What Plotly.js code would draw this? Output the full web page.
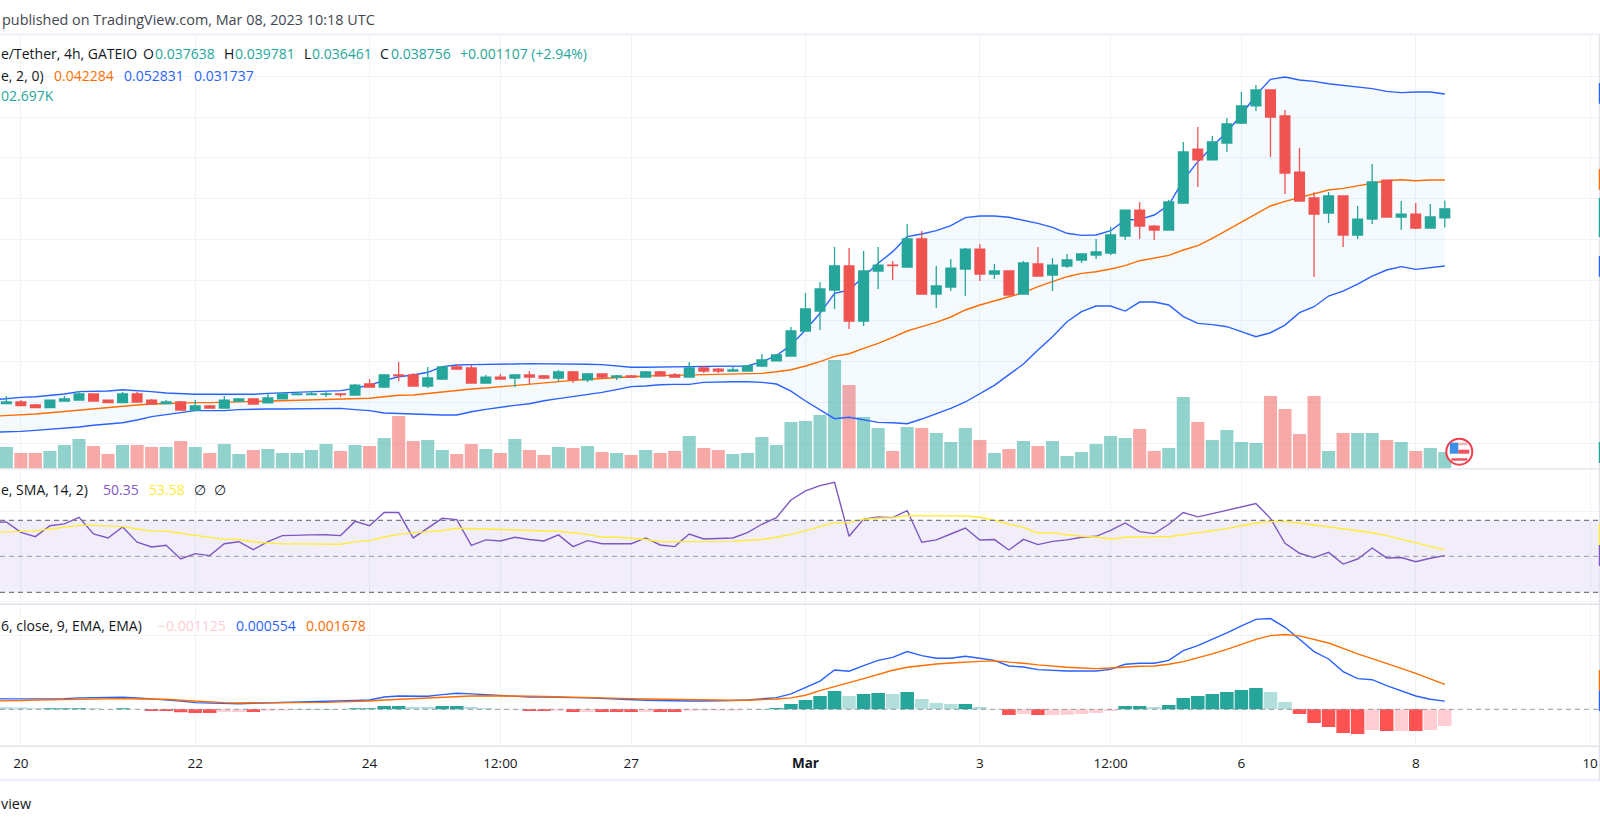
<!DOCTYPE html>
<html><head><meta charset="utf-8">
<script src="https://cdn.plot.ly/plotly-3.0.1.min.js"></script>
<style>html,body{margin:0;padding:0;background:#fff}#c{width:1600px;height:825px}</style>
</head><body><div id="c"></div>
<script>
// prices in units of 0.001 USDT, one 4h candle per entry
const opens=[14.9,14.86,15.07,14.70,14.37,15.19,15.31,16.05,15.31,14.99,16.05,15.31,14.86,15.07,14.09,14.58,14.33,15.19,15.44,14.95,15.44,15.97,15.97,16.00,16.05,15.93,17.28,16.91,18.38,18.38,17.03,17.89,19.36,19.24,17.40,18.13,18.01,18.38,18.26,18.01,18.75,17.77,18.50,18.13,18.26,18.13,18.75,18.38,18.13,19.24,19.11,18.87,18.87,19.48,20.10,20.71,23.77,26.22,28.80,31.74,25.00,31.13,31.86,31.62,35.05,28.31,29.17,31.37,33.82,30.76,31.13,28.31,31.99,30.64,31.74,32.48,33.09,33.33,35.42,38.60,36.64,36.15,39.46,46.08,44.74,46.82,49.27,51.36,53.32,50.13,43.26,40.08,38.24,40.32,35.54,37.50,42.28,37.75,38.11,36.40,37.638];
const highs=[15.1,15.80,15.31,14.82,15.31,15.80,16.42,16.05,15.31,16.29,16.29,15.44,15.31,15.19,15.31,14.70,15.80,15.56,15.56,16.17,16.05,16.29,16.42,16.29,16.17,17.28,17.89,18.50,19.97,18.62,19.36,19.48,19.73,19.60,18.38,18.50,18.50,18.87,18.38,18.99,18.87,18.62,18.50,18.38,18.38,18.87,18.87,18.62,19.97,19.48,19.24,19.36,19.60,20.95,20.95,24.26,28.43,29.78,34.07,33.95,33.58,34.07,32.35,36.89,36.03,31.74,32.60,33.95,34.44,31.99,31.13,32.35,34.07,32.72,33.21,33.21,35.05,36.52,38.60,39.59,36.77,39.83,46.94,48.78,47.68,49.88,53.07,53.93,53.32,50.87,46.21,40.81,40.81,40.32,39.10,44.24,42.28,39.71,39.46,39.34,39.781];
const lows=[14.8,14.86,14.62,14.37,14.37,15.19,15.31,15.19,14.99,14.99,15.07,14.82,14.86,14.09,14.09,14.33,14.33,15.19,14.82,14.95,15.44,15.97,15.97,15.68,15.68,15.93,16.91,16.78,17.64,17.03,16.78,17.77,19.11,17.40,17.40,17.89,16.91,17.28,17.89,17.64,17.40,17.52,17.89,17.77,18.13,18.13,18.26,18.13,18.13,18.62,18.62,18.87,18.87,19.36,20.10,20.71,23.77,23.89,26.47,24.02,24.38,28.92,30.02,31.49,28.31,26.59,28.67,28.06,29.90,30.15,28.18,28.31,30.51,28.67,31.49,32.11,32.60,33.09,34.93,35.05,34.93,36.15,39.46,41.42,44.74,45.72,49.15,50.74,45.10,40.57,39.71,30.39,37.01,34.07,35.05,36.89,37.75,36.15,36.28,36.40,36.461];
const closes=[15.0,15.07,14.62,14.37,15.31,15.44,16.05,15.19,14.99,16.05,15.07,14.82,15.07,14.09,14.58,14.33,15.31,15.44,14.82,15.56,16.05,16.05,16.05,16.05,15.97,17.15,16.91,18.38,18.26,17.03,18.01,19.36,19.11,17.40,18.13,17.89,18.38,18.13,18.01,18.75,17.77,18.50,18.13,18.26,18.13,18.75,18.26,18.13,19.24,18.87,18.87,18.99,19.48,20.22,20.83,23.77,26.47,28.92,31.74,25.00,31.13,31.86,31.78,35.05,28.31,29.29,31.49,33.82,30.76,31.13,28.18,32.11,30.51,31.86,32.48,33.21,33.46,35.54,38.60,36.64,36.15,39.59,45.72,44.74,46.94,49.15,51.36,53.32,50.01,43.14,39.71,38.11,40.32,35.54,37.50,42.04,37.75,38.11,36.40,37.75,38.756];
const bbUpper=[15.31,15.48,15.64,15.72,15.89,16.05,16.34,16.38,16.42,16.58,16.50,16.34,16.17,16.05,16.01,16.01,16.01,16.05,16.01,16.13,16.21,16.25,16.34,16.38,16.46,16.74,17.15,17.68,18.17,18.38,18.71,19.40,19.60,19.65,19.65,19.69,19.73,19.77,19.77,19.73,19.73,19.69,19.65,19.52,19.32,19.32,19.32,19.32,19.40,19.44,19.44,19.44,19.48,20.01,20.75,22.05,23.89,25.94,28.39,28.80,30.43,32.07,33.50,35.34,35.66,36.07,36.69,37.67,37.87,37.87,37.71,37.38,36.97,36.48,35.75,35.50,35.54,36.07,37.38,37.46,37.99,39.22,42.28,44.53,46.37,48.21,50.25,52.70,54.63,54.91,54.54,54.38,54.09,53.89,53.60,53.48,53.15,52.99,53.07,53.07,52.831];
const bbBasis=[13.31,13.39,13.52,13.60,13.76,13.92,14.13,14.29,14.41,14.54,14.70,14.82,14.90,14.95,14.99,14.99,15.03,15.07,15.15,15.19,15.23,15.27,15.31,15.39,15.44,15.48,15.52,15.72,15.89,15.93,16.13,16.34,16.54,16.66,16.78,16.95,17.11,17.28,17.44,17.60,17.72,17.85,17.97,18.09,18.17,18.26,18.30,18.34,18.38,18.42,18.42,18.42,18.46,18.58,18.78,19.03,19.48,20.01,20.66,20.99,21.65,22.26,23.00,23.77,24.30,24.83,25.49,26.35,26.96,27.49,27.98,28.47,29.21,29.82,30.43,30.84,31.04,31.37,31.78,32.39,32.68,33.05,33.70,34.23,35.13,36.11,37.17,38.11,39.10,39.67,40.16,40.57,41.06,41.26,41.59,41.96,42.20,42.32,42.20,42.28,42.284];
const bbLower=[11.35,11.39,11.47,11.59,11.72,11.84,12.00,12.21,12.37,12.53,12.86,13.27,13.52,13.80,14.01,14.01,14.01,14.13,14.21,14.21,14.21,14.21,14.25,14.29,14.29,14.13,14.01,13.72,13.64,13.60,13.52,13.47,13.47,13.88,14.17,14.46,14.66,14.86,15.23,15.48,15.72,15.97,16.25,16.58,16.95,17.03,17.19,17.23,17.23,17.48,17.56,17.56,17.56,17.48,17.27,16.41,15.19,14.08,13.02,13.19,12.86,12.57,12.53,12.41,12.98,13.59,14.29,15.07,16.05,17.11,18.42,19.72,21.44,23.08,24.91,26.14,26.83,26.83,26.22,27.32,27.32,26.96,25.53,24.71,24.55,24.30,23.69,23.07,23.56,24.50,26.02,26.75,28.06,28.67,29.53,30.51,31.25,31.66,31.33,31.49,31.737];
// volume in thousands
const volumes=[130,134,96,96,109,147,185,140,90,147,147,134,134,172,134,96,153,90,115,122,96,96,115,153,109,147,140,191,329,172,178,115,90,153,122,96,185,115,84,134,128,140,103,96,84,115,96,109,203,128,115,90,96,197,147,292,298,336,682,525,323,254,109,260,254,222,166,254,178,96,122,172,140,172,77,103,153,203,191,248,109,128,449,292,178,241,166,159,455,374,216,455,109,222,222,222,178,166,109,128,102.697];
const rsi=[68.7,69.1,63.3,60.9,67.0,68.0,71.7,62.4,60.2,66.3,57.8,55.2,56.1,48.5,51.5,50.4,57.0,58.1,53.7,58.1,61.5,61.5,61.9,62.0,61.5,69.4,67.0,74.3,74.3,60.2,65.6,71.1,70.4,56.1,59.1,58.5,60.6,59.3,58.5,61.9,55.4,58.7,57.0,57.2,57.0,60.2,56.3,55.4,62.4,59.6,59.8,60.2,63.1,67.8,71.5,81.3,86.3,89.3,91.1,61.1,70.7,71.9,71.5,75.4,57.8,59.1,62.4,65.7,59.1,59.3,53.5,59.4,56.5,58.3,59.1,60.6,61.1,64.4,68.5,63.7,62.6,67.8,74.3,71.9,73.7,75.6,77.8,79.3,71.1,57.2,51.7,49.3,52.2,45.7,48.5,54.6,49.1,49.3,47.0,48.9,50.35];
const rsiMa=[63.3,63.7,64.1,64.1,65.2,66.1,67.2,67.2,66.9,66.5,65.2,64.1,63.9,62.8,61.7,60.2,59.4,59.3,58.1,57.4,56.9,56.9,56.9,56.7,56.7,58.0,58.7,60.7,62.2,63.0,63.5,64.3,65.6,65.4,65.2,65.0,64.8,64.6,64.4,63.9,63.1,62.2,60.6,60.6,60.0,59.3,58.1,58.1,58.3,58.3,58.3,58.3,58.9,59.3,60.6,62.2,64.3,66.5,68.7,68.7,70.6,71.1,71.5,72.6,72.6,72.6,72.6,72.4,71.7,70.0,67.8,66.1,62.8,63.0,62.0,61.1,60.7,59.6,60.6,60.9,60.9,60.9,62.0,63.0,64.3,65.4,67.0,68.5,69.3,69.3,68.5,67.4,66.3,65.2,64.1,63.1,61.5,59.6,57.8,55.7,53.58];
const macdHist=[0.14,0.135,0.13,0.068,0.07,0.072,0.074,0.068,0.023,0.068,0.023,-0.113,-0.115,-0.20,-0.25,-0.255,-0.18,-0.175,-0.18,-0.09,-0.085,0.023,0.025,0.027,0.023,0.068,0.07,0.225,0.23,0.158,0.155,0.225,0.23,0.158,0.09,0.023,0.02,-0.113,-0.115,-0.09,-0.18,-0.175,-0.18,-0.182,-0.184,-0.18,-0.184,-0.186,-0.09,-0.088,-0.086,-0.084,-0.02,0.023,0.09,0.36,0.63,0.90,1.24,0.90,1.04,1.10,1.04,1.17,0.70,0.43,0.36,0.365,0.158,0.023,-0.38,-0.315,-0.38,-0.378,-0.376,-0.315,-0.25,-0.113,0.225,0.23,0.158,0.29,0.77,0.90,1.04,1.17,1.31,1.44,1.17,0.50,-0.315,-0.92,-1.19,-1.60,-1.67,-1.40,-1.46,-1.458,-1.46,-1.40,-1.125];
const macdLine=[0.70,0.70,0.70,0.70,0.70,0.72,0.77,0.79,0.79,0.81,0.77,0.70,0.65,0.56,0.45,0.41,0.38,0.38,0.41,0.43,0.45,0.47,0.50,0.50,0.54,0.59,0.63,0.83,0.90,0.88,0.88,0.99,1.08,1.04,0.99,0.92,0.88,0.83,0.83,0.83,0.79,0.77,0.72,0.68,0.65,0.61,0.59,0.56,0.56,0.56,0.56,0.59,0.63,0.70,0.79,1.04,1.46,1.91,2.66,2.57,2.95,3.31,3.51,3.90,3.63,3.45,3.45,3.58,3.45,3.31,2.93,2.86,2.68,2.61,2.59,2.59,2.59,2.70,3.04,3.11,3.11,3.31,3.96,4.30,4.71,5.16,5.63,6.08,6.13,5.54,4.73,3.90,3.40,2.55,2.07,2.00,1.60,1.26,0.90,0.68,0.554];
const macdSignal=[0.56,0.56,0.59,0.63,0.65,0.68,0.70,0.70,0.72,0.72,0.70,0.70,0.68,0.61,0.54,0.47,0.45,0.43,0.43,0.43,0.45,0.47,0.47,0.47,0.50,0.52,0.56,0.63,0.68,0.70,0.74,0.81,0.86,0.90,0.92,0.92,0.90,0.88,0.86,0.83,0.81,0.79,0.77,0.74,0.72,0.70,0.68,0.65,0.63,0.63,0.61,0.61,0.61,0.63,0.70,0.77,0.95,1.26,1.55,1.80,2.07,2.36,2.64,2.84,2.97,3.06,3.13,3.20,3.24,3.27,3.20,3.11,3.00,2.91,2.84,2.79,2.75,2.79,2.86,2.91,2.93,3.04,3.22,3.47,3.74,4.05,4.39,4.73,4.98,5.05,4.96,4.73,4.48,4.12,3.74,3.42,3.11,2.77,2.43,2.05,1.678];
const tickDates=['2023-02-20','2023-02-22','2023-02-24','2023-02-25 12:00','2023-02-27','2023-03-01','2023-03-03','2023-03-04 12:00','2023-03-06','2023-03-08','2023-03-10'];
const tickLabels=['20','22','24','12:00','27','<b>Mar</b>','3','12:00','6','8','10'];

const W=1600,H=825,FONT='"Open Sans",sans-serif';
const UP='#26a69a',DOWN='#ef5350',BLUE='#2962ff',ORANGE='#ff6d00',GRID='#f0f3fa',SEP='#e0e3eb';
const T0=Date.UTC(2023,1,19,16),STEP=4*3600e3;
const dates=opens.map((_,i)=>new Date(T0+i*STEP).toISOString());
const idx=j=>new Date(T0+j*STEP).toISOString();
const fy=y=>1-y/H, fx=x=>x/W;

const volColors=closes.map((c,i)=>c>=opens[i]?'rgba(38,166,154,0.5)':'rgba(239,83,80,0.5)');
const histColors=macdHist.map((v,i)=>{
  const p=i?macdHist[i-1]:v;
  return v>=0?(v>=p?'#26a69a':'#b2dfdb'):(v<p?'#ff5252':'#ffcdd2');
});
const line=(y,color,xa,ya,extra)=>Object.assign({type:'scatter',mode:'lines',x:dates,y,xaxis:xa,yaxis:ya,line:{color,width:1.4},hoverinfo:'skip',showlegend:false},extra||{});

const data=[
 {type:'bar',x:dates,y:volumes,xaxis:'x',yaxis:'y',marker:{color:volColors,line:{width:0}},width:STEP*0.9,hoverinfo:'skip',showlegend:false},
 line(bbUpper,BLUE,'x','y4'),
 line(bbLower,BLUE,'x','y4',{fill:'tonexty',fillcolor:'rgba(33,150,243,0.05)'}),
 line(bbBasis,ORANGE,'x','y4'),
 {type:'candlestick',x:dates,open:opens,high:highs,low:lows,close:closes,xaxis:'x',yaxis:'y5',whiskerwidth:0,
  increasing:{line:{color:UP,width:1.3},fillcolor:UP},decreasing:{line:{color:DOWN,width:1.3},fillcolor:DOWN},hoverinfo:'skip',showlegend:false},
 line(rsi,'#7e57c2','x','y2'),
 line(rsiMa,'#ffeb3b','x','y2'),
 {type:'bar',x:dates,y:macdHist,xaxis:'x',yaxis:'y3',marker:{color:histColors,line:{width:0}},width:STEP*0.93,hoverinfo:'skip',showlegend:false},
 line(macdLine,BLUE,'x','y3'),
 line(macdSignal,ORANGE,'x','y3')
];

const hidden={showticklabels:false,ticks:'',zeroline:false,showline:false,fixedrange:true};
const mainDom=[fy(468.8),fy(35)],rsiDom=[fy(604.3),fy(468.8)],macdDom=[fy(746.3),fy(604.3)];
const priceRange=[6.88,60.06];
const layout={
 width:W,height:H,margin:{l:0,r:0,t:0,b:0,pad:0},paper_bgcolor:'#fff',plot_bgcolor:'#fff',showlegend:false,
 font:{family:FONT,size:14,color:'#131722'},boxgap:0.18,boxgroupgap:0.18,bargap:0.1,dragmode:false,
 xaxis:{type:'date',domain:[0,1],range:[idx(0.564),idx(110.68)],anchor:'y3',tickmode:'array',tickvals:tickDates,ticktext:tickLabels,
   showgrid:true,gridcolor:'rgba(42,46,57,0.06)',gridwidth:1,ticks:'outside',ticklen:4,tickcolor:'rgba(0,0,0,0)',tickangle:0,
   tickfont:{family:FONT,size:13.5,color:'#131722'},rangeslider:{visible:false},zeroline:false,showline:false,fixedrange:true},
 yaxis:Object.assign({domain:mainDom,range:[-3,2730],showgrid:false},hidden),
 yaxis4:Object.assign({domain:mainDom,overlaying:'y',range:priceRange,tickmode:'array',tickvals:[10,15,20,25,30,35,40,45,50,55],showgrid:true,gridcolor:GRID,gridwidth:1},hidden),
 yaxis5:Object.assign({domain:mainDom,overlaying:'y',range:priceRange,showgrid:false},hidden),
 yaxis2:Object.assign({domain:rsiDom,range:[23.33,98.61],tickmode:'array',tickvals:[25,75],showgrid:true,gridcolor:GRID,gridwidth:1},hidden),
 yaxis3:Object.assign({domain:macdDom,range:[-2.5,7.095],tickmode:'array',tickvals:[5],showgrid:true,gridcolor:GRID,gridwidth:1},hidden),
 shapes:[],annotations:[]
};
const S=layout.shapes;
const rule=(y,w,color)=>S.push({type:'line',xref:'paper',yref:'paper',x0:0,x1:1,y0:fy(y),y1:fy(y),line:{color,width:w}});
// RSI band and reference levels
S.push({type:'rect',xref:'paper',yref:'y2',x0:0,x1:1,y0:30,y1:70,fillcolor:'rgba(126,87,194,0.1)',line:{width:0},layer:'below'});
[[70,'#787b86'],[50,'rgba(120,123,134,0.6)'],[30,'#787b86']].forEach(([v,c])=>S.push({type:'line',xref:'paper',yref:'y2',x0:0,x1:1,y0:v,y1:v,line:{color:c,width:1.2,dash:'5px,4px'}}));
S.push({type:'line',xref:'paper',yref:'y3',x0:0,x1:1,y0:0,y1:0,line:{color:'rgba(120,123,134,0.6)',width:1.2,dash:'5px,4px'}});
// frame
rule(34.3,2.2,GRID);rule(468.8,1.2,SEP);rule(604.3,1.5,SEP);rule(746.3,1.5,SEP);rule(780,3,GRID);
const shapePx=(type,x0,y0,x1,y1,o)=>S.push(Object.assign({type,xref:'paper',yref:'paper',x0:fx(x0),x1:fx(x1),y0:fy(y1),y1:fy(y0)},o));
// clipped price-scale edge and its last-value pills
shapePx('rect',1598.8,35,1600,780,{fillcolor:SEP,line:{width:0}});
[[82.9,103.7,BLUE],[169,189.8,ORANGE],[198,237,UP],[256,276.7,BLUE],[442,463,UP],[523.7,545,'#ffeb3b'],[545,566,'#7e57c2'],[670,690.6,ORANGE],[690.6,711,BLUE]]
 .forEach(([a,b,c])=>shapePx('rect',1598.8,a,1600,b,{fillcolor:c,line:{width:0}}));
// flag badge
const cx=1459.3,cy=451.7;
shapePx('circle',cx-13,cy-13,cx+13,cy+13,{fillcolor:'#fff',line:{color:'#ef3f4a',width:2}});
shapePx('rect',cx-8,cy-9,cx+8,cy-6.5,{fillcolor:'#f7b7ba',line:{width:0}});
shapePx('rect',cx-1,cy-2,cx+10,cy+2,{fillcolor:'#f4515a',line:{width:0}});
shapePx('rect',cx-8,cy+6.5,cx+8,cy+9,{fillcolor:'#f4515a',line:{width:0}});
shapePx('rect',cx-9.5,cy-9,cx-1,cy+2,{fillcolor:'#3f8fe8',line:{width:0}});

const note=(text,x,y,color,size)=>layout.annotations.push({text,x:fx(x),y:fy(y),xref:'paper',yref:'paper',xanchor:'left',yanchor:'middle',showarrow:false,borderpad:0,font:{family:FONT,size:size||14,color}});
const INK='#131722',T='#26a69a',P='#7e57c2';
note('published on TradingView.com, Mar 08, 2023 10:18 UTC',1,19.5,'#434651',14.4);
note('e/Tether, 4h, GATEIO',0,54,INK);note('O',142,54,INK);note('0.037638',154,54,T);note('H',223,54,INK);note('0.039781',233.5,54,T);
note('L',303,54,INK);note('0.036461',311,54,T);note('C',379,54,INK);note('0.038756',389.5,54,T);note('+0.001107 (+2.94%)',459,54,T);
note('e, 2, 0)',0,75,INK);note('0.042284',53.4,75,ORANGE);note('0.052831',122.5,75,BLUE);note('0.031737',193,75,BLUE);
note('02.697K',0,96,T);
note('e, SMA, 14, 2)',0,489,INK);note('50.35',101.7,489,P);note('53.58',147.7,489,'#ffeb3b');note('∅',193,489,INK);note('∅',212.7,489,INK);
note('6, close, 9, EMA, EMA)',0,625,INK);note('−0.001125',157,625,'#ffcdd2');note('0.000554',235,625,BLUE);note('0.001678',304.6,625,ORANGE);
note('view',0,803,INK,14.4);

Plotly.newPlot('c',data,layout,{displayModeBar:false,staticPlot:true});
</script></body></html>
